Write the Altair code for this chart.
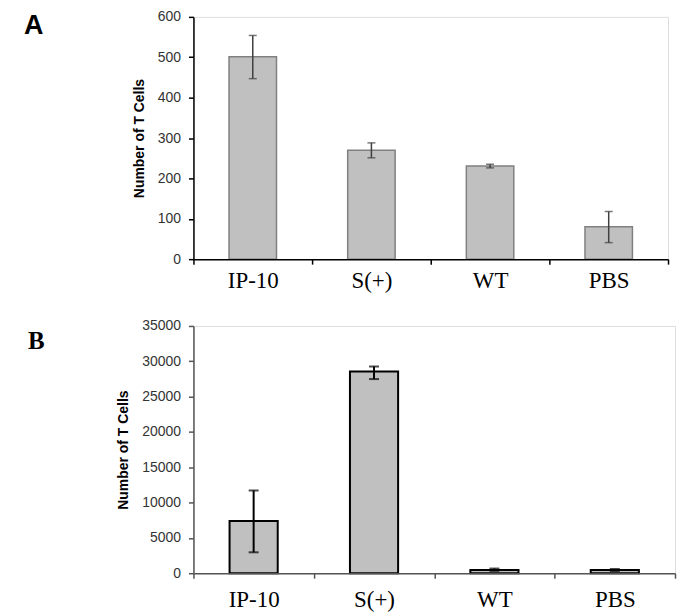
import altair as alt
import pandas as pd

cats = ["IP-10", "S(+)", "WT", "PBS"]

a_mean = [501, 270, 231, 80]
a_lo = [447, 251, 226, 41]
a_hi = [554, 288, 235, 118]

b_mean = [7380, 28550, 470, 450]
b_lo = [2960, 27480, 330, 300]
b_hi = [11710, 29260, 660, 600]

a_ticks = [0, 100, 200, 300, 400, 500, 600]
b_ticks = [0, 5000, 10000, 15000, 20000, 25000, 30000, 35000]

Y_TITLE = "Number of T Cells"


def panel(mean, lo, hi, ticks, letter, letter_font, letter_size, lx, ly,
          w, h, bar_stroke, bar_sw, err_color, err_sw, cap, axis_color, xlab_pad):
    df = pd.DataFrame({"cat": cats, "mean": mean, "lo": lo, "hi": hi})
    x = alt.X(
        "cat:N", sort=cats,
        scale=alt.Scale(paddingInner=0, paddingOuter=0),
        axis=alt.Axis(
            title=None, labelAngle=0, tickBand="extent", tickSize=5,
            labelFont="Liberation Serif", labelFontSize=23, labelColor="black",
            labelPadding=xlab_pad, domainColor=axis_color, tickColor=axis_color,
            domainWidth=1.5, tickWidth=1.5, zindex=1,
        ),
    )
    yscale = alt.Scale(domain=[ticks[0], ticks[-1]], nice=False)
    yaxis = alt.Axis(
        title=Y_TITLE, values=ticks, grid=False, tickSize=5, format="d",
        labelOverlap=False,
        labelFont="Liberation Sans", labelFontSize=14, labelColor="#333333",
        labelPadding=8, titleFont="Liberation Sans", titleFontSize=14,
        titleFontWeight="bold", titleColor="black", titlePadding=11,
        domainColor=axis_color, tickColor=axis_color,
        domainWidth=1.5, tickWidth=1.5, zindex=1,
    )
    base = alt.Chart(df).encode(x=x)
    bars = base.mark_bar(
        width=alt.RelativeBandSize(0.4), fill="#c0c0c0",
        stroke=bar_stroke, strokeWidth=bar_sw,
    ).encode(y=alt.Y("mean:Q", scale=yscale, axis=yaxis))
    rule = base.mark_rule(color=err_color, strokeWidth=err_sw).encode(
        y=alt.Y("lo:Q", scale=yscale, axis=yaxis), y2="hi:Q"
    )
    cap_lo = base.mark_tick(color=err_color, size=cap, thickness=err_sw).encode(
        y=alt.Y("lo:Q", scale=yscale, axis=yaxis)
    )
    cap_hi = base.mark_tick(color=err_color, size=cap, thickness=err_sw).encode(
        y=alt.Y("hi:Q", scale=yscale, axis=yaxis)
    )
    lab = alt.Chart(pd.DataFrame({"t": [letter]})).mark_text(
        font=letter_font, fontSize=letter_size, fontWeight="bold",
        align="left", baseline="alphabetic", color="black",
    ).encode(text="t:N", x=alt.value(lx), y=alt.value(ly))
    return alt.layer(bars, rule, cap_lo, cap_hi, lab).properties(width=w, height=h)


pa = panel(a_mean, a_lo, a_hi, a_ticks, "A", "Liberation Sans", 27, -170, 17,
           476, 243, "#808080", 1.5, "#404040", 1.5, 8, "black", 5)
pb = panel(b_mean, b_lo, b_hi, b_ticks, "B", "Liberation Serif", 25, -166, 23,
           483, 248, "black", 2, "black", 2, 10, "#555555", 10)

chart = alt.vconcat(pa, pb, spacing=25).properties(
    padding={"left": 15, "top": 0, "right": 0, "bottom": 0}
).configure_view(stroke="#808080", strokeWidth=1.5).configure(background="white")

chart.save("out.html", embed_options={"renderer": "svg", "actions": False})
